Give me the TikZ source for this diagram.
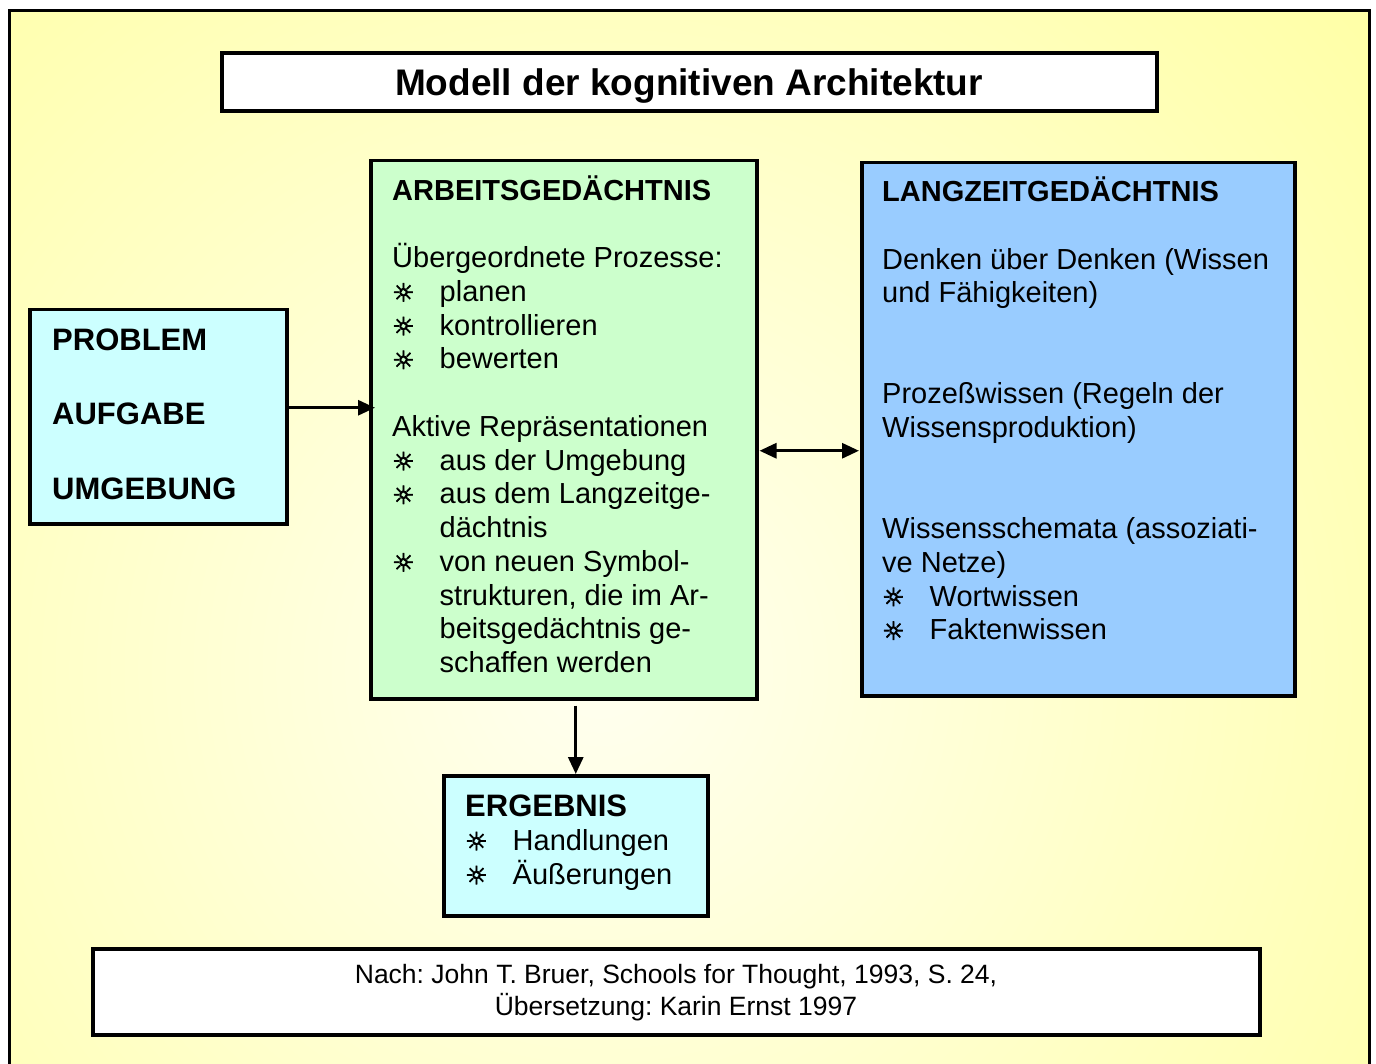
\documentclass[tikz,border=0pt]{standalone}
\usepackage{fontspec}
\setmainfont{Liberation Sans}
\newfontfamily\symfont[FakeBold=3]{DejaVu Sans}
\usetikzlibrary{arrows.meta,positioning}
\frenchspacing

\definecolor{paleyellow}{HTML}{FFFF99}
\definecolor{creamwhite}{HTML}{FFFFF0}
\definecolor{palecyan}{HTML}{CCFFFF}
\definecolor{palegreen}{HTML}{CCFFCC}
\definecolor{paleblue}{HTML}{99CCFF}

\newcommand{\sunmark}{{\symfont\fontsize{25}{25}\selectfont ☼}}
\newcommand{\sunitem}{\makebox[47.5pt][l]{\sunmark}}
\newcommand{\contline}{\hspace*{47.5pt}}
\newcommand{\firstline}{\rule{0pt}{27pt}}

\tikzset{
  box/.style={draw, line width=3.5pt, anchor=north west, inner sep=0pt},
  txt/.style={anchor=north west, inner sep=0pt, align=left},
  arr/.style={line width=3pt, -{Triangle[length=17pt,width=15pt]}},
}

\begin{document}
\begin{tikzpicture}[x=1pt,y=-1pt]
  \useasboundingbox (0,0) rectangle (1376,1064);
  % Hintergrund
  \fill[white] (0,0) rectangle (1376,1064);
  \fill[paleyellow] (9.5,10.5) rectangle (1369.5,1080);
  \begin{scope}
    \clip (9.5,10.5) rectangle (1369.5,1080);
    \shade[inner color=creamwhite, outer color=paleyellow] (600,670) circle (1200pt);
  \end{scope}
  \draw[line width=3pt] (9.5,10.5) rectangle (1369.5,1080);

  % Kaesten
  \node[box, fill=white, line width=4pt, minimum width=935pt, minimum height=58pt] (title) at (220,51) {};
  \node[box, fill=palecyan, minimum width=257pt, minimum height=214pt] (prob) at (28,308) {};
  \node[box, fill=palegreen, minimum width=386pt, minimum height=538pt] (ag) at (369,159) {};
  \node[box, fill=paleblue, minimum width=433pt, minimum height=533pt] (lzg) at (860,161) {};
  \node[box, fill=palecyan, minimum width=264pt, minimum height=140pt] (erg) at (442,774) {};
  \node[box, fill=white, line width=4pt, minimum width=1167pt, minimum height=86pt] (quelle) at (91,947) {};

  % Texte
  \node[anchor=base, inner sep=0pt, font=\fontsize{37}{40}\selectfont\bfseries] (titletext) at (689,96)
    {Modell der kognitiven Architektur};
  \node[txt, font=\fontsize{31}{74.5}\selectfont\bfseries] (probtext) at (52,323)
    {\firstline PROBLEM\\AUFGABE\\UMGEBUNG};
  \node[txt, font=\fontsize{29}{33.75}\selectfont] (agtext) at (392,173)
    {\firstline\textbf{ARBEITSGEDÄCHTNIS}\\[33.75pt]
     Übergeordnete Prozesse:\\
     \sunitem planen\\
     \sunitem kontrollieren\\
     \sunitem bewerten\\[33.75pt]
     Aktive Repräsentationen\\
     \sunitem aus der Umgebung\\
     \sunitem aus dem Langzeitge-\\
     \contline dächtnis\\
     \sunitem von neuen Symbol-\\
     \contline strukturen, die im Ar-\\
     \contline beitsgedächtnis ge-\\
     \contline schaffen werden};
  \node[txt, font=\fontsize{29}{33.7}\selectfont] (lzgtext) at (882,174.5)
    {\firstline\textbf{LANGZEITGEDÄCHTNIS}\\[33.7pt]
     Denken über Denken (Wissen\\
     und Fähigkeiten)\\[67.4pt]
     Prozeßwissen (Regeln der\\
     Wissensproduktion)\\[67.4pt]
     Wissensschemata (assoziati-\\
     ve Netze)\\
     \sunitem Wortwissen\\
     \sunitem Faktenwissen};
  \node[txt, font=\fontsize{29}{34}\selectfont] (ergtext) at (465,789)
    {\firstline{\fontsize{31}{34}\selectfont\bfseries ERGEBNIS}\\
     \sunitem Handlungen\\
     \sunitem Äußerungen};
  \node[anchor=north, inner sep=0pt, align=center, font=\fontsize{26.5}{32}\selectfont] (quelletext) at (676,956)
    {\firstline Nach: John T. Bruer, Schools for Thought, 1993, S. 24,\\
     Übersetzung: Karin Ernst 1997};

  % Pfeile
  \coordinate (pa) at ([yshift=9pt]prob.east);
  \draw[arr, shorten >=-6pt] (pa) -- (pa -| ag.west);
  \coordinate (la) at ([yshift=-21pt]ag.east);
  \draw[arr, {Triangle[length=17pt,width=15pt]}-{Triangle[length=17pt,width=15pt]},
        shorten <=1pt, shorten >=1pt] (la) -- (la -| lzg.west);
  \draw[arr] (ag.south -| erg.north) ++(0,5) -- (erg.north);
\end{tikzpicture}
\end{document}
